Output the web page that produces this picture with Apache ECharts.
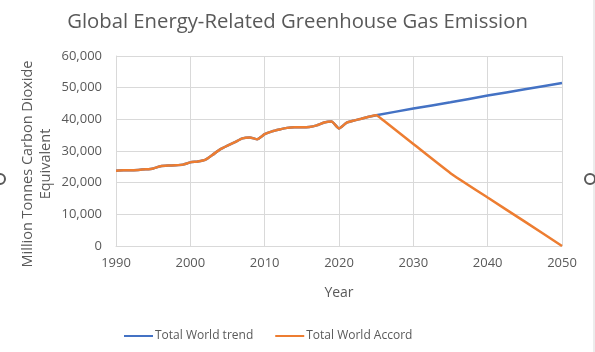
<!DOCTYPE html>
<html>
<head>
<meta charset="utf-8">
<script src="https://cdn.jsdelivr.net/npm/echarts@6/dist/echarts.min.js"></script>
<style>
  html, body { margin: 0; padding: 0; background: #fff; }
  #chart { width: 595px; height: 352px; }
</style>
</head>
<body>
<div id="chart"></div>
<script>
// historical emissions (both series share these)
const histYears = [1990, 1991, 1992, 1993, 1994, 1995, 1996, 1997, 1998, 1999,
  2000, 2001, 2002, 2003, 2004, 2005, 2006, 2007, 2008, 2009,
  2010, 2011, 2012, 2013, 2014, 2015, 2016, 2017, 2018, 2019,
  2020, 2021, 2022, 2023, 2024, 2025]
const histValues = [23800, 23900, 23900, 24000, 24200, 24500, 25200, 25400, 25500, 25700,
  26400, 26700, 27200, 28800, 30500, 31700, 32800, 34000, 34300, 33700,
  35300, 36200, 36800, 37300, 37500, 37500, 37600, 38100, 39000, 39300,
  37100, 38900, 39600, 40200, 40800, 41300]

// projections
const trendYears = [2030, 2035, 2040, 2045, 2050]
const trendValues = [43400, 45400, 47500, 49500, 51500]
const accordYears = [2026, 2030, 2035, 2040, 2045, 2050]
const accordValues = [39600, 32200, 23000, 15300, 7700, 0]

const yTicks = [0, 10000, 20000, 30000, 40000, 50000, 60000]

const pairs = (xs, ys) => xs.map((x, i) => [x, ys[i]])
const trendData = pairs(histYears, histValues).concat(pairs(trendYears, trendValues))
const accordData = pairs(histYears, histValues).concat(pairs(accordYears, accordValues))

const textColor = '#595959'
const gridColor = '#d9d9d9'
const font = 'Open Sans'

const chart = echarts.init(document.getElementById('chart'))
chart.setOption({
  animation: false,
  textStyle: { fontFamily: font },
  title: {
    text: 'Global Energy-Related Greenhouse Gas Emission',
    left: 'center',
    top: 7,
    textStyle: { fontFamily: font, fontSize: 20.3, fontWeight: 'normal', color: textColor }
  },
  legend: {
    bottom: 5,
    left: 119,
    itemWidth: 29,
    itemHeight: 2,
    itemGap: 22,
    icon: 'rect',
    textStyle: { fontFamily: font, fontSize: 12, color: textColor, padding: [0, 0, 0, -3] },
    data: ['Total World trend', 'Total World Accord']
  },
  grid: { left: 116, right: 33, top: 56, bottom: 106 },
  xAxis: {
    type: 'value',
    min: 1990,
    max: 2050,
    interval: 10,
    name: 'Year',
    nameLocation: 'middle',
    nameGap: 40,
    nameTextStyle: { fontFamily: font, fontSize: 14, color: textColor },
    axisLine: { show: true, lineStyle: { color: gridColor } },
    axisTick: { show: false },
    axisLabel: { color: textColor, fontSize: 13, margin: 11, formatter: v => String(v) },
    splitLine: { show: true, lineStyle: { color: gridColor } }
  },
  yAxis: {
    type: 'value',
    min: yTicks[0],
    max: yTicks[yTicks.length - 1],
    interval: 10000,
    axisLine: { show: true, lineStyle: { color: gridColor } },
    axisTick: { show: false },
    axisLabel: {
      color: textColor,
      fontSize: 13,
      margin: 14,
      formatter: v => v.toLocaleString('en-US')
    },
    splitLine: { show: true, lineStyle: { color: gridColor } }
  },
  series: [
    {
      name: 'Total World trend',
      type: 'line',
      data: trendData,
      smooth: 0.15,
      showSymbol: false,
      lineStyle: { color: '#4472C4', width: 2.5 },
      itemStyle: { color: '#4472C4' }
    },
    {
      name: 'Total World Accord',
      type: 'line',
      data: accordData,
      smooth: 0.15,
      showSymbol: false,
      lineStyle: { color: '#ED7D31', width: 2.5 },
      itemStyle: { color: '#ED7D31' }
    }
  ],
  graphic: [
    // y axis title, placed like the original
    {
      type: 'text',
      x: 37,
      y: 164,
      rotation: Math.PI / 2,
      style: {
        text: 'Million Tonnes Carbon Dioxide\nEquivalent',
        font: '14.5px "Open Sans"',
        fill: textColor,
        align: 'center',
        verticalAlign: 'middle',
        lineHeight: 18
      }
    },
    { type: 'line', shape: { x1: 594, y1: 0, x2: 594, y2: 352 }, style: { stroke: '#d9d9d9', lineWidth: 1 } },
    { type: 'circle', shape: { cx: 590, cy: 179, r: 5 }, style: { fill: '#fff', stroke: '#595959', lineWidth: 2 } },
    { type: 'circle', shape: { cx: 0, cy: 179, r: 5 }, style: { fill: '#fff', stroke: '#595959', lineWidth: 2 } }
  ]
})
</script>
</body>
</html>
